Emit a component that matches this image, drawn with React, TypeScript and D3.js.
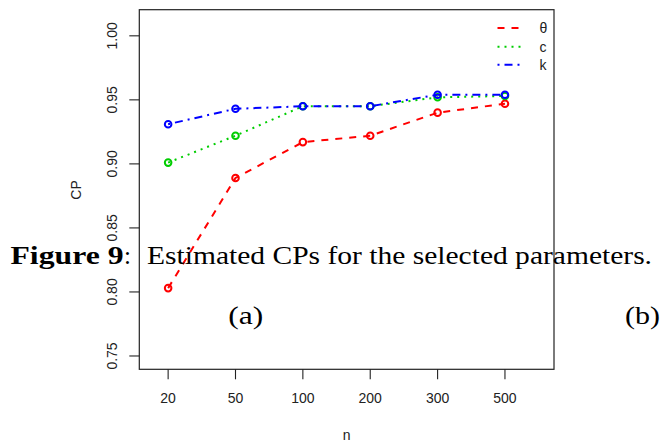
import React from "react";
import * as d3 from "d3";

const categories = ["20", "50", "100", "200", "300", "500"];
const thetaCP = [0.803, 0.889, 0.917, 0.922, 0.940, 0.947];
const cCP = [0.901, 0.922, 0.945, 0.945, 0.952, 0.953];
const kCP = [0.931, 0.943, 0.945, 0.945, 0.954, 0.954];
const yTicks = [0.75, 0.8, 0.85, 0.9, 0.95, 1.0];
const seriesNames = ["θ", "c", "k"];

const W = 663;
const H = 448;
const L = 139.3, R = 554, T = 9.7, B = 369.3;

export default function App() {
  const x = d3.scaleLinear().domain([0.572, 6.728]).range([L, R]);
  const y = d3.scaleLinear().domain([0.7396, 1.0204]).range([B, T]);
  const line = d3
    .line<number>()
    .x((_, i) => x(i + 1))
    .y((d) => y(d));

  const series = [
    { name: seriesNames[0], data: thetaCP, color: "#ff0000", dash: "7,7" },
    { name: seriesNames[1], data: cCP, color: "#00cd00", dash: "2,5" },
    { name: seriesNames[2], data: kCP, color: "#0000ff", dash: "2,5,8,5" },
  ];

  const sans = "'Liberation Sans', Arial, sans-serif";
  const serif = "'Liberation Serif', 'Times New Roman', serif";
  const fs = 14;

  return (
    <svg
      width={W}
      height={H}
      style={{ position: "absolute", left: 0, top: 0, background: "#fff" }}
    >
      <rect x={0} y={0} width={W} height={H} fill="#fff" />
      <rect x={L} y={T} width={R - L} height={B - T} fill="none" stroke="#222" strokeWidth={1.2} />
      {yTicks.map((t) => (
        <g key={t}>
          <line x1={L - 10} x2={L} y1={y(t)} y2={y(t)} stroke="#222" strokeWidth={1.1} />
          <text
            transform={`translate(${116.7},${y(t)}) rotate(-90)`}
            textAnchor="middle"
            fontFamily={sans}
            fontSize={fs}
            fill="#222"
          >
            {t.toFixed(2)}
          </text>
        </g>
      ))}
      {categories.map((c, i) => (
        <g key={c}>
          <line x1={x(i + 1)} x2={x(i + 1)} y1={B} y2={B + 10} stroke="#222" strokeWidth={1.1} />
          <text x={x(i + 1)} y={403.3} textAnchor="middle" fontFamily={sans} fontSize={fs} fill="#222">
            {c}
          </text>
        </g>
      ))}
      <text x={(L + R) / 2} y={439.5} textAnchor="middle" fontFamily={sans} fontSize={fs} fill="#222">
        n
      </text>
      <text
        transform={`translate(${80.7},${190}) rotate(-90)`}
        textAnchor="middle"
        fontFamily={sans}
        fontSize={fs}
        fill="#222"
      >
        CP
      </text>
      {series.map((s) => (
        <g key={s.name}>
          <path d={line(s.data) || ""} fill="none" stroke={s.color} strokeWidth={2} strokeDasharray={s.dash} />
          {s.data.map((v, i) => (
            <circle key={i} cx={x(i + 1)} cy={y(v)} r={3.3} fill="none" stroke={s.color} strokeWidth={2} />
          ))}
        </g>
      ))}
      {series.map((s, i) => {
        const ly = [28, 46.7, 64.7][i];
        return (
          <g key={s.name}>
            <line x1={497.5} x2={520.5} y1={ly} y2={ly} stroke={s.color} strokeWidth={2} strokeDasharray={s.dash} />
            <text x={539.5} y={ly + 5} fontFamily={sans} fontSize={fs} fill="#222">
              {s.name}
            </text>
          </g>
        );
      })}
      <text x={10.5} y={264} fontFamily={serif} fontSize={25} fontWeight="bold" fill="#000" textLength={113} lengthAdjust="spacingAndGlyphs">
        Figure 9
      </text>
      <text x={124} y={264} fontFamily={serif} fontSize={25} fill="#000">
        :
      </text>
      <text x={147} y={264} fontFamily={serif} fontSize={25} fill="#000" textLength={505} lengthAdjust="spacingAndGlyphs">
        Estimated CPs for the selected parameters.
      </text>
      <text x={245.8} y={324} textAnchor="middle" fontFamily={serif} fontSize={26} fill="#000" textLength={35} lengthAdjust="spacingAndGlyphs">
        (a)
      </text>
      <text x={642.5} y={324} textAnchor="middle" fontFamily={serif} fontSize={26} fill="#000" textLength={35} lengthAdjust="spacingAndGlyphs">
        (b)
      </text>
    </svg>
  );
}
